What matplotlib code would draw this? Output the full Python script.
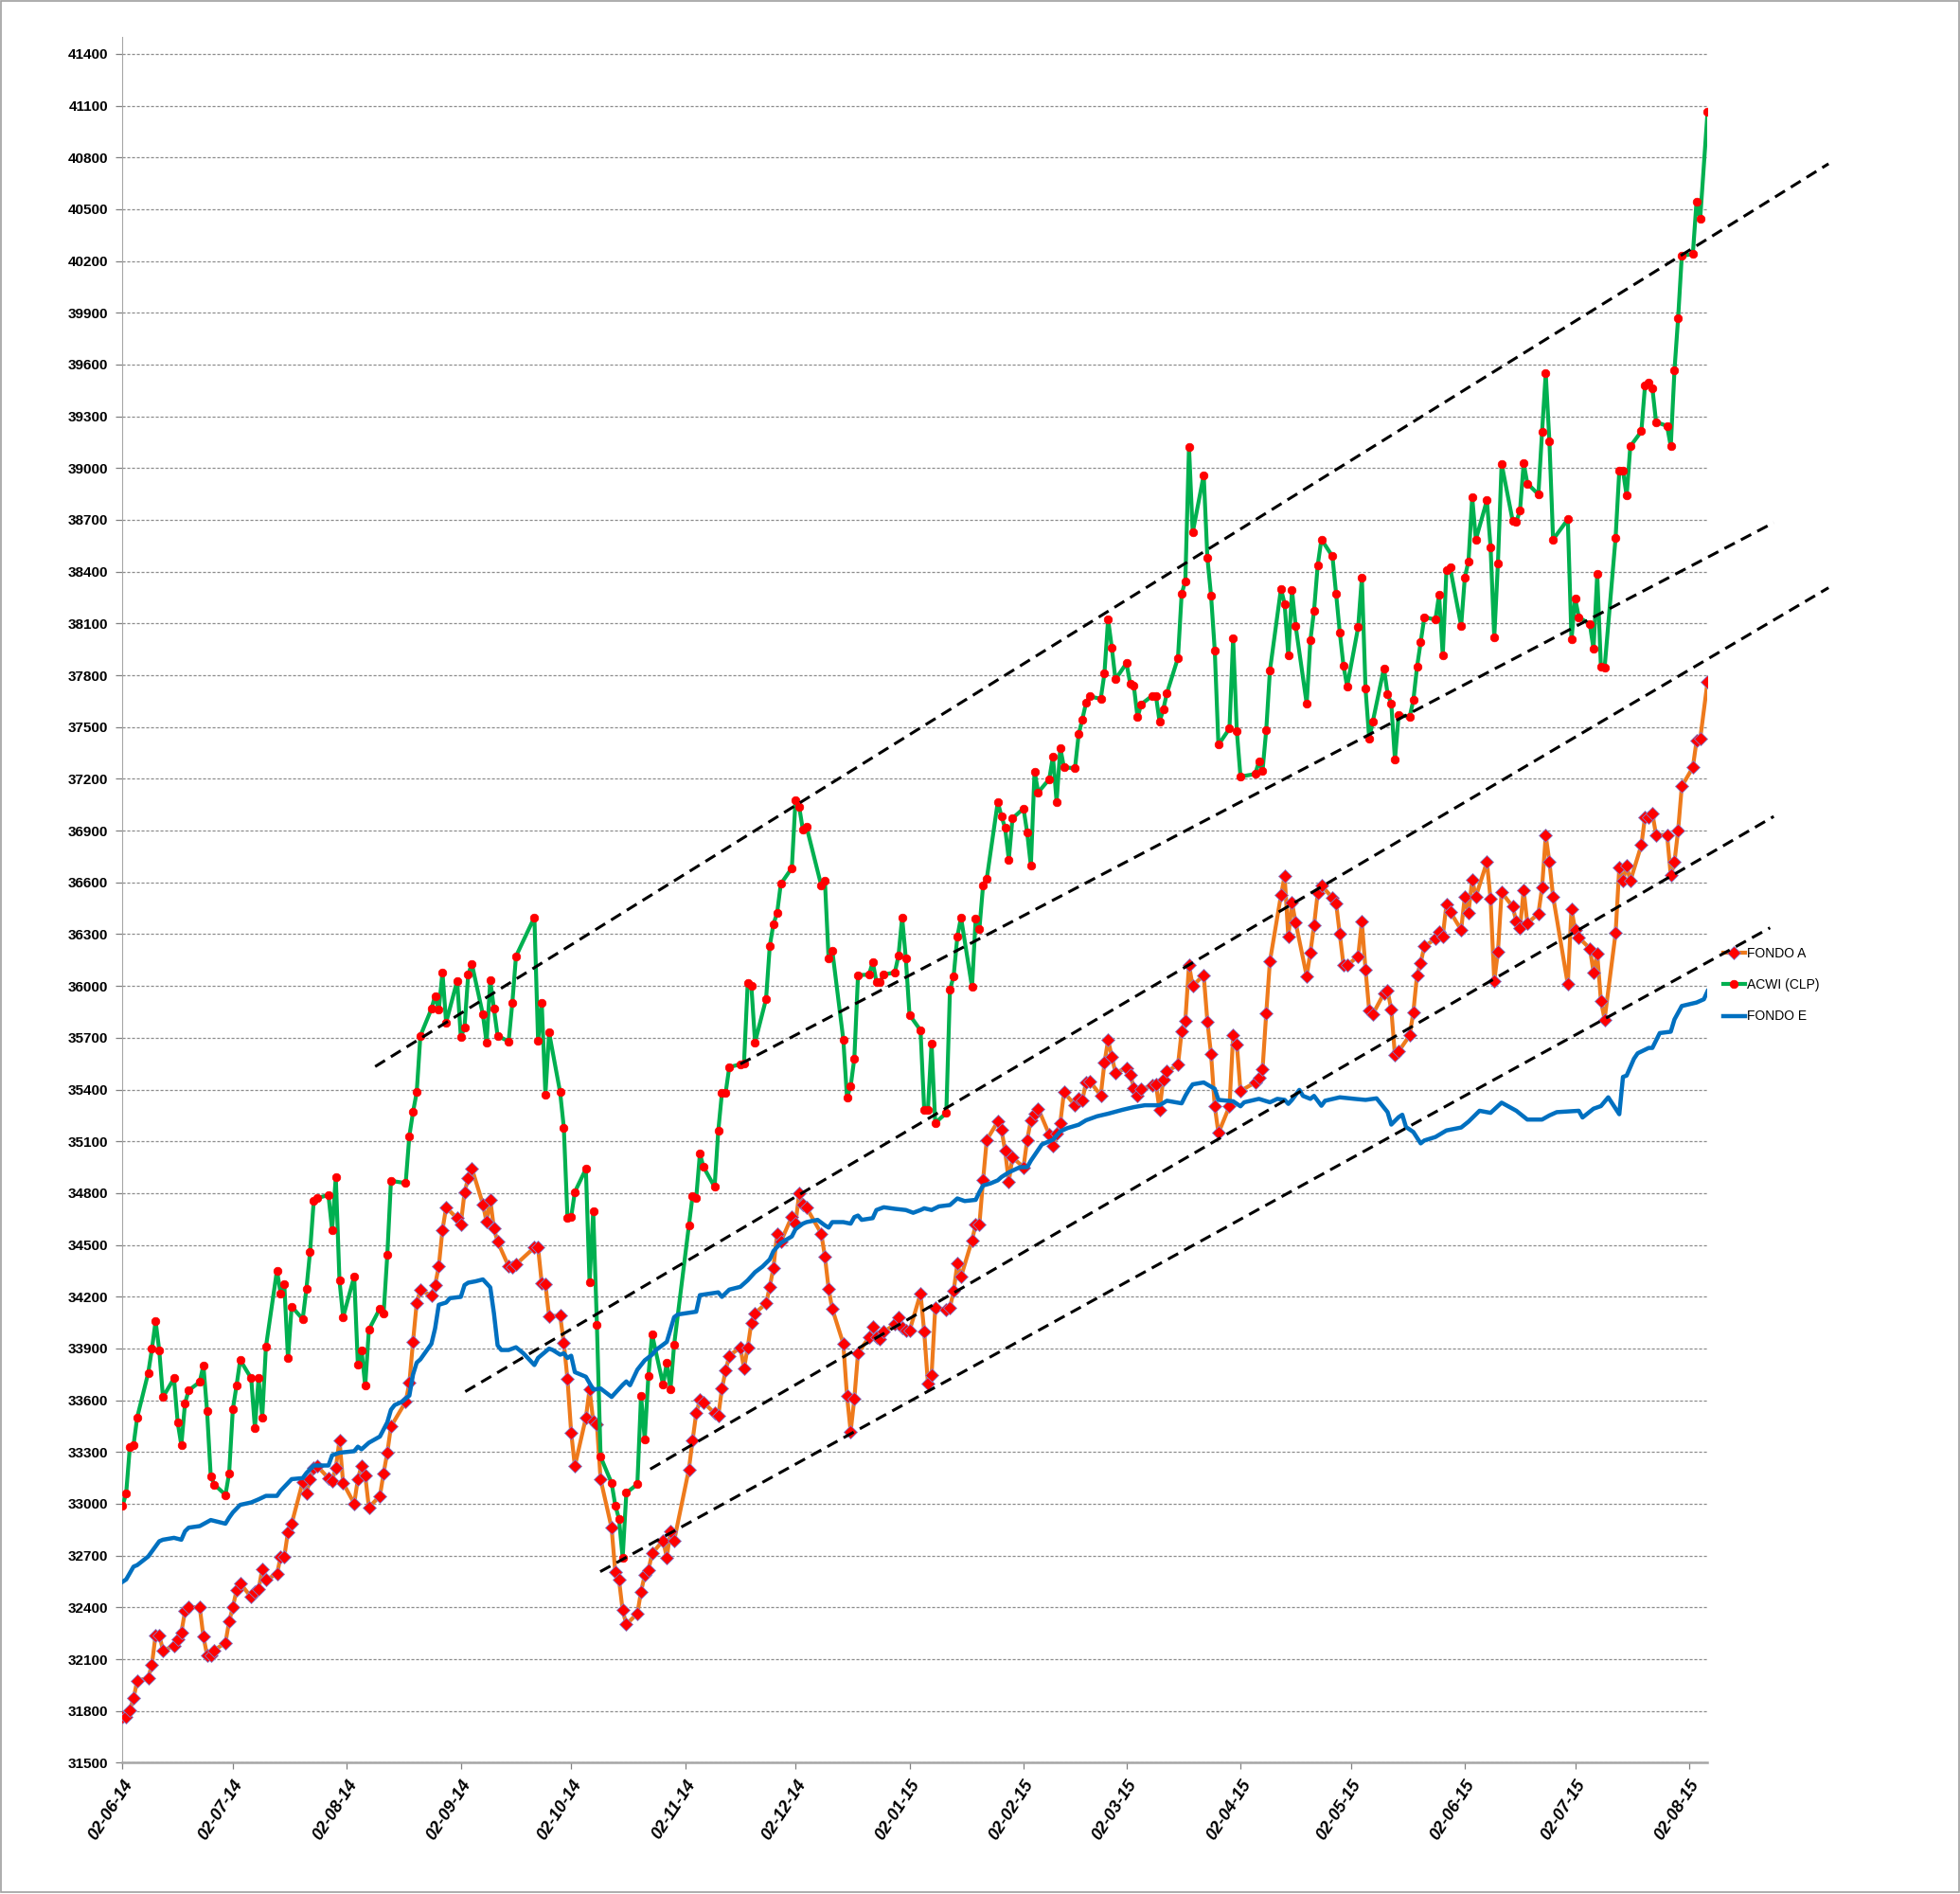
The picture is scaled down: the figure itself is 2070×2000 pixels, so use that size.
"""FONDO A / ACWI (CLP) / FONDO E, Jun-2014 to Aug-2015, with hand-drawn trend channels."""
import pandas as pd
import matplotlib
matplotlib.use("Agg")
import matplotlib.pyplot as plt
import matplotlib.dates as mdates
from matplotlib.patches import Rectangle

plt.rcParams["font.family"] = ["Liberation Sans", "DejaVu Sans"]

START = "2014-06-02"
END = "2015-08-07"
# trading days missing from the A / ACWI series
HOLIDAYS = ["2014-08-15", "2014-09-18", "2014-09-19", "2014-10-31", "2014-12-08",
            "2015-04-03", "2015-06-29", "2015-08-06"]

# one line per week (Mon-Fri)
ACWI = [
    32988, 33061, 33331, 33340, 33501,
    33759, 33897, 34058, 33888, 33618,
    33727, 33472, 33340, 33583, 33657,
    33706, 33803, 33536, 33158, 33111,
    33052, 33178, 33548, 33683, 33833,
    33727, 33439, 33727, 33501, 33909,
    34352, 34217, 34270, 33844, 34143,
    34070, 34243, 34460, 34756, 34771,
    34789, 34586, 34894, 34293, 34082,
    34317, 33806, 33891, 33683, 34009,
    34132, 34102, 34440, 34871,
    34858, 35131, 35270, 35384, 35711,
    35867, 35943, 35861, 36079, 35788,
    36030, 35703, 35760, 36066, 36128,
    35834, 35671, 36033, 35867, 35711,
    35679, 35902, 36172,
    36398, 35684, 35902, 35371, 35730,
    35384, 35180, 34654, 34662, 34807,
    34940, 34281, 34695, 34036, 33273,
    33120, 32990, 32914, 32687, 33063,
    33114, 33627, 33373, 33741, 33981,
    33690, 33817, 33664, 33922,
    34613, 34782, 34772, 35027, 34951,
    34836, 35161, 35381, 35381, 35530,
    35546, 35553, 36015, 35999, 35674,
    35925, 36231, 36359, 36422, 36591,
    36683, 37075, 37037, 36906, 36922,
    36582, 36607, 36158, 36206,
    35690, 35355, 35419, 35581, 36062,
    36066, 36139, 36024, 36024, 36066,
    36078, 36174, 36397, 36158, 35833,
    35743, 35282, 35282, 35668, 35207,
    35264, 35978, 36057, 36284, 36397,
    35993, 36393, 36329, 36582, 36620,
    37066, 36983, 36915, 36733, 36971,
    37028, 36888, 36695, 37243, 37122,
    37198, 37330, 37066, 37379, 37266,
    37262, 37459, 37545, 37640, 37678,
    37663, 37810, 38124, 37961, 37776,
    37870, 37753, 37738, 37557, 37632,
    37681, 37681, 37530, 37602, 37697,
    37901, 38271, 38346, 39125, 38626,
    38960, 38481, 38260, 37945, 37397,
    37491, 38013, 37477, 37213,
    37228, 37299, 37248, 37483, 37827,
    38300, 38214, 37913, 38294, 38085,
    37635, 38002, 38174, 38438, 38587,
    38489, 38272, 38048, 37856, 37735,
    38079, 38366, 37721, 37434, 37534,
    37841, 37692, 37635, 37311, 37569,
    37560, 37655, 37847, 37993, 38137,
    38122, 38266, 37913, 38409, 38424,
    38085, 38367, 38461, 38833, 38586,
    38813, 38543, 38018, 38449, 39025,
    38696, 38688, 38754, 39028, 38911,
    38848, 39209, 39549, 39154, 38586,
    38703, 38006, 38245, 38136,
    38096, 37952, 38386, 37850, 37842,
    38598, 38985, 38985, 38840, 39126,
    39213, 39479, 39494, 39463, 39267,
    39244, 39126, 39565, 39870, 40231,
    40239, 40544, 40446, 41065,
]

FONDO_A = [
    31765, 31765, 31806, 31873, 31976,
    31991, 32070, 32240, 32240, 32152,
    32175, 32216, 32255, 32378, 32401,
    32401, 32231, 32123, 32123, 32152,
    32196, 32319, 32401, 32498, 32539,
    32460, 32489, 32504, 32621, 32562,
    32592, 32694, 32694, 32838, 32885,
    33126, 33061, 33143, 33208, 33217,
    33149, 33134, 33208, 33369, 33120,
    33002, 33143, 33222, 33164, 32979,
    33046, 33178, 33296, 33448,
    33591, 33700, 33940, 34164, 34240,
    34205, 34267, 34376, 34586, 34717,
    34654, 34621, 34804, 34888, 34943,
    34736, 34632, 34763, 34594, 34518,
    34376, 34371, 34387,
    34485, 34485, 34278, 34272, 34087,
    34090, 33932, 33722, 33414, 33218,
    33499, 33663, 33477, 33460, 33142,
    32860, 32603, 32561, 32383, 32301,
    32365, 32492, 32586, 32615, 32713,
    32787, 32689, 32840, 32787,
    33199, 33365, 33524, 33603, 33588,
    33524, 33508, 33667, 33772, 33858,
    33906, 33785, 33906, 34049, 34104,
    34161, 34257, 34368, 34566, 34518,
    34664, 34623, 34798, 34734, 34715,
    34566, 34432, 34247, 34129,
    33928, 33626, 33419, 33610, 33874,
    33964, 34024, 33964, 33954, 33996,
    34040, 34081, 34018, 34002, 34002,
    34218, 33996, 33699, 33747, 34135,
    34126, 34138, 34232, 34391, 34315,
    34527, 34618, 34618, 34874, 35108,
    35214, 35169, 35044, 34867, 35007,
    34950, 35109, 35222, 35260, 35290,
    35139, 35071, 35146, 35207, 35384,
    35309, 35347, 35339, 35441, 35449,
    35366, 35554, 35687, 35592, 35498,
    35524, 35486, 35411, 35366, 35403,
    35422, 35430, 35283, 35460, 35505,
    35543, 35736, 35800, 36121, 36000,
    36063, 35794, 35604, 35303, 35148,
    35303, 35713, 35662, 35392,
    35441, 35469, 35518, 35842, 36143,
    36525, 36637, 36287, 36482, 36367,
    36057, 36195, 36350, 36539, 36582,
    36511, 36479, 36301, 36123, 36120,
    36172, 36373, 36095, 35857, 35837,
    35957, 35971, 35865, 35598, 35621,
    35713, 35848, 36063, 36135, 36229,
    36273, 36316, 36287, 36473, 36430,
    36326, 36518, 36424, 36616, 36518,
    36718, 36503, 36029, 36197, 36542,
    36460, 36373, 36334, 36557, 36362,
    36420, 36569, 36871, 36718, 36518,
    36009, 36444, 36326, 36280,
    36217, 36080, 36186, 35915, 35806,
    36307, 36687, 36608, 36698, 36608,
    36816, 36980, 36980, 37000, 36875,
    36875, 36640, 36718, 36902, 37157,
    37266, 37419, 37431, 37764,
]

# FONDO E: days after START
FONDO_E_DAYS = [
    0, 1, 3, 4, 7, 8, 10, 11, 14, 16,
    17, 18, 21, 24, 28, 29, 30, 32, 35, 37,
    39, 42, 43, 46, 49, 50, 52, 56, 57, 59,
    63, 64, 65, 67, 70, 72, 73, 74, 76, 78,
    79, 80, 81, 84, 85, 86, 88, 89, 92, 93,
    94, 96, 98, 100, 101, 102, 103, 105, 107, 109,
    112, 113, 116, 117, 119, 120, 121, 122, 123, 126,
    128, 130, 133, 136, 137, 138, 140, 142, 144, 145,
    148, 150, 151, 156, 157, 162, 163, 165, 168, 170,
    172, 174, 176, 177, 179, 182, 183, 185, 186, 189,
    191, 192, 193, 196, 198, 199, 200, 201, 204, 205,
    207, 210, 213, 215, 217, 218, 220, 222, 225, 227,
    229, 232, 233, 234, 236, 238, 239, 241, 244, 246,
    247, 250, 253, 255, 257, 260, 262, 265, 268, 272,
    275, 278, 282, 284, 288, 289, 290, 291, 294, 297,
    298, 302, 304, 305, 309, 312, 314, 316, 317, 318,
    320, 321, 323, 324, 326, 327, 331, 335, 338, 341,
    344, 345, 347, 348, 349, 351, 353, 354, 357, 360,
    364, 366, 369, 372, 375, 379, 382, 386, 388, 390,
    396, 397, 400, 402, 404, 407, 408, 409, 411, 412,
    415, 416, 418, 421, 422, 424, 428, 430, 431,
]
FONDO_E = [
    32548, 32562, 32636, 32645, 32695, 32724, 32783, 32792, 32803, 32792,
    32841, 32862, 32871, 32906, 32885, 32920, 32950, 32994, 33008, 33026,
    33046, 33046, 33076, 33143, 33149, 33178, 33222, 33222, 33281, 33296,
    33305, 33331, 33316, 33354, 33390, 33472, 33545, 33572, 33591, 33627,
    33749, 33818, 33837, 33927, 34016, 34153, 34166, 34191, 34199, 34267,
    34281, 34289, 34300, 34254, 34104, 33918, 33891, 33891, 33907, 33872,
    33804, 33845, 33899, 33891, 33864, 33872, 33845, 33858, 33763, 33736,
    33662, 33668, 33619, 33689, 33709, 33687, 33777, 33831, 33864, 33890,
    33938, 34081, 34097, 34113, 34209, 34225, 34199, 34241, 34257, 34295,
    34342, 34374, 34416, 34464, 34511, 34549, 34591, 34623, 34632, 34645,
    34613, 34600, 34632, 34632, 34623, 34661, 34670, 34645, 34655, 34702,
    34718, 34709, 34702, 34686, 34702, 34712, 34702, 34723, 34731, 34769,
    34754, 34761, 34806, 34844, 34856, 34874, 34893, 34920, 34950, 34950,
    34988, 35082, 35109, 35158, 35177, 35196, 35222, 35245, 35260, 35283,
    35298, 35309, 35309, 35335, 35320, 35363, 35400, 35430, 35441, 35404,
    35340, 35332, 35303, 35326, 35346, 35326, 35346, 35340, 35317, 35340,
    35398, 35363, 35346, 35363, 35306, 35335, 35355, 35346, 35340, 35349,
    35269, 35197, 35240, 35254, 35183, 35154, 35088, 35105, 35125, 35163,
    35180, 35214, 35277, 35265, 35324, 35277, 35226, 35226, 35250, 35269,
    35277, 35238, 35289, 35304, 35355, 35257, 35473, 35481, 35579, 35610,
    35641, 35641, 35727, 35735, 35806, 35884, 35904, 35923, 35970,
]

# dashed channel lines (days after START, value)
TREND_X0 = [68.7, 168.0, 93.2, 143.5, 129.9]
TREND_Y0 = [35533, 35548, 33650, 33201, 32607]
TREND_X1 = [463.9, 449.0, 463.9, 449.0, 448.0]
TREND_Y1 = [40763, 38684, 38307, 36982, 36337]


def main() -> None:
    dates = pd.bdate_range(START, END, freq="C", holidays=HOLIDAYS)
    assert len(dates) == len(ACWI) == len(FONDO_A), (len(dates), len(ACWI), len(FONDO_A))
    t0 = pd.Timestamp(START)
    e_dates = t0 + pd.to_timedelta(FONDO_E_DAYS, unit="D")

    fig = plt.figure(figsize=(20.7, 20.0), dpi=100)
    ax = fig.add_axes([0.0625, 0.0693, 0.8087, 0.9114])

    ax.plot(dates, FONDO_A, color="#EE7A1C", linewidth=3.0, marker="D", markersize=7,
            markerfacecolor="#FF0000", markeredgecolor="#8080D0", markeredgewidth=0.6,
            label="FONDO A", zorder=3)
    ax.plot(dates, ACWI, color="#00B050", linewidth=3.0, marker="o", markersize=6.2,
            markerfacecolor="#FF0000", markeredgecolor="#FF0000", markeredgewidth=0.5,
            label="ACWI (CLP)", zorder=4)
    ax.plot(e_dates, FONDO_E, color="#0070C0", linewidth=3.2, label="FONDO E", zorder=5)

    for x0, y0, x1, y1 in zip(TREND_X0, TREND_Y0, TREND_X1, TREND_Y1):
        xs = [t0 + pd.Timedelta(days=x0), t0 + pd.Timedelta(days=x1)]
        ax.plot(xs, [y0, y1], color="black", linewidth=2.2, dashes=(4.0, 2.4),
                clip_on=False, zorder=6)

    ax.set_xlim(t0, pd.Timestamp(END))
    ax.set_ylim(31500, 41500)
    ax.set_yticks(range(31500, 41401, 300))
    ax.yaxis.grid(True, color="#8c8c8c", linestyle=(0, (2.5, 1.5)), linewidth=0.9)
    ax.set_axisbelow(True)

    ax.xaxis.set_major_locator(mdates.MonthLocator(bymonthday=2))
    ax.xaxis.set_major_formatter(mdates.DateFormatter("%d-%m-%y"))

    for s in ("top", "right"):
        ax.spines[s].set_visible(False)
    ax.spines["left"].set_color("#a6a6a6")
    ax.spines["bottom"].set_color("#a6a6a6")
    ax.spines["bottom"].set_linewidth(1.8)
    ax.tick_params(axis="both", colors="#808080", length=5, width=0.9)
    ax.tick_params(axis="y", labelcolor="black", pad=6)
    ax.tick_params(axis="x", labelcolor="black", pad=6)
    for lab in ax.get_yticklabels():
        lab.set_fontsize(11)
        lab.set_fontweight("bold")
    for lab in ax.get_xticklabels():
        lab.set_fontsize(13)
        lab.set_fontweight("bold")
        lab.set_fontstyle("italic")
        lab.set_rotation(57)
        lab.set_ha("right")
        lab.set_va("top")
        lab.set_rotation_mode("anchor")

    ax.legend(loc="center left", bbox_to_anchor=(0.879, 0.48), bbox_transform=fig.transFigure,
              frameon=False, fontsize=10, handlelength=1.7, handletextpad=0.1,
              labelspacing=1.4, borderpad=0, borderaxespad=0, numpoints=1)

    fig.patches.append(Rectangle((0.0005, 0.0008), 0.999, 0.9985, transform=fig.transFigure,
                                 fill=False, edgecolor="#a0a0a0", linewidth=1.2))

    fig.savefig("out.png", dpi=100)


if __name__ == "__main__":
    main()
